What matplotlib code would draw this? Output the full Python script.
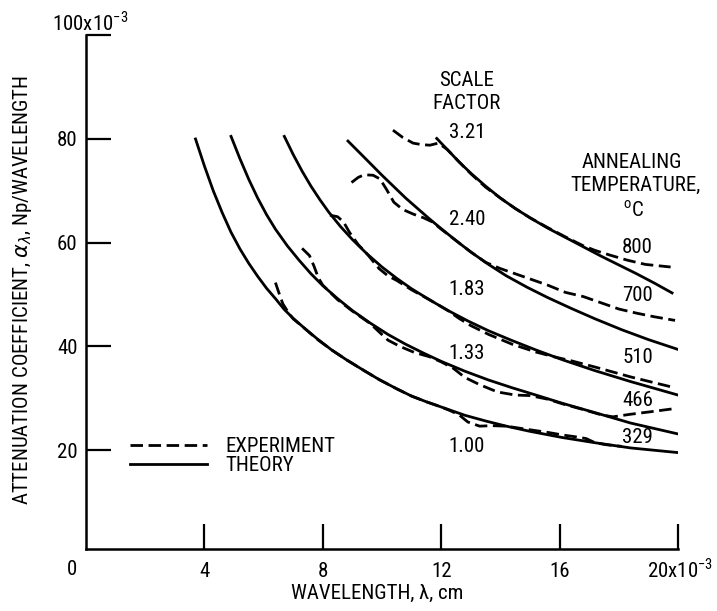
import matplotlib
matplotlib.use('Agg')
import matplotlib.pyplot as plt
from matplotlib import font_manager

# pick a condensed sans face if one is installed, the original lettering is narrow
installed = {f.name for f in font_manager.fontManager.ttflist}
narrow = [n for n in ['Liberation Sans Narrow', 'Roboto Condensed', 'Noto Sans Condensed',
                      'DejaVu Sans Condensed', 'Open Sans Condensed'] if n in installed]
if narrow:
    plt.rcParams['font.family'] = [narrow[0], 'DejaVu Sans']
    FS = 15
else:
    plt.rcParams['font.family'] = ['DejaVu Sans']
    FS = 12.5
plt.rcParams['mathtext.fontset'] = 'dejavusans'

# wavelength in 1e-3 cm, attenuation coefficient in 1e-3 Np/wavelength
# theory curves (solid)
th_329_x = [3.7, 4.0, 4.3, 4.6, 4.9, 5.2, 5.5, 5.8, 6.1, 6.4, 6.7, 7.0, 7.4, 7.8, 8.3, 8.8, 9.4, 9.9,
            10.5, 11.0, 11.5, 12.0, 12.8, 13.5, 14.2, 15.0, 16.1, 17.2, 18.4, 20.0]
th_329_y = [80.0, 74.8, 70.0, 65.8, 62.0, 58.8, 56.0, 53.5, 51.2, 49.2, 47.1, 45.4, 43.4, 41.5, 39.3, 37.4, 35.3, 33.6,
            31.8, 30.4, 29.3, 28.3, 26.7, 25.6, 24.6, 23.6, 22.4, 21.4, 20.4, 19.5]

th_466_x = [4.9, 5.2, 5.5, 5.8, 6.1, 6.4, 6.8, 7.2, 7.6, 8.0, 8.5, 9.0, 9.6, 10.2, 10.8, 11.4, 12.0,
            12.8, 13.6, 14.4, 15.2, 16.1, 17.2, 18.4, 20.0]
th_466_y = [80.5, 76.2, 72.2, 68.6, 65.4, 62.6, 59.4, 56.6, 54.0, 51.7, 49.2, 46.9, 44.5, 42.3, 40.4, 38.7, 37.1,
            35.2, 33.5, 32.0, 30.6, 29.0, 27.2, 25.2, 23.1]

th_510_x = [6.7, 7.0, 7.3, 7.6, 7.9, 8.2, 8.6, 9.0, 9.5, 10.0, 10.5, 11.0, 11.6, 12.2, 12.9, 13.6, 14.4,
            15.2, 16.1, 17.2, 18.4, 20.0]
th_510_y = [80.5, 77.0, 73.8, 70.9, 68.3, 65.9, 63.1, 60.6, 57.8, 55.3, 53.1, 51.1, 49.0, 47.0, 44.9, 43.0, 41.1,
            39.3, 37.4, 35.3, 33.2, 30.6]

th_700_x = [8.85, 9.2, 9.6, 10.0, 10.4, 10.8, 11.2, 11.6, 12.0, 12.5, 13.0, 13.6, 14.2, 14.9, 15.6, 16.4,
            17.2, 18.1, 19.0, 20.0]
th_700_y = [79.6, 77.6, 75.3, 73.0, 70.8, 68.6, 66.6, 64.6, 62.7, 60.4, 58.2, 55.8, 53.6, 51.4, 49.4, 47.3,
            45.3, 43.2, 41.3, 39.4]

th_800_x = [11.85, 12.2, 12.6, 13.0, 13.5, 14.0, 14.5, 15.0, 15.6, 16.2, 16.8, 17.4, 18.0, 18.6, 19.2, 19.8]
th_800_y = [80.1, 78.0, 75.6, 73.4, 70.9, 68.6, 66.6, 64.8, 62.8, 61.0, 59.2, 57.4, 55.7, 54.0, 52.2, 50.3]

# experiment curves (dashed)
ex_329_x = [6.4, 6.5, 6.65, 6.85, 7.0, 7.4, 7.8, 8.3, 8.8, 9.4, 9.9, 10.5, 11.0, 11.5, 12.0, 12.3,
            12.6, 12.9, 13.3, 13.7, 14.2, 15.0, 15.6, 16.1, 16.6, 16.9, 17.2, 17.6, 18.1]
ex_329_y = [52.3, 50.6, 48.2, 46.4, 45.3, 43.4, 41.4, 39.3, 37.4, 35.3, 33.6, 31.8, 30.4, 29.3, 28.3, 27.6,
            26.8, 25.4, 24.6, 24.7, 24.6, 23.9, 23.4, 22.9, 22.5, 22.2, 21.4, 21.0, 20.7]

ex_466_x = [7.3, 7.55, 7.7, 7.85, 8.0, 8.5, 9.0, 9.6, 9.9, 10.2, 10.6, 11.1, 11.6, 12.0, 12.4, 12.8,
            13.3, 13.9, 14.5, 15.0, 15.6, 16.1, 16.8, 17.4, 17.8, 18.4, 19.1, 19.9]
ex_466_y = [58.9, 57.5, 55.5, 53.2, 51.8, 49.0, 46.8, 44.4, 42.8, 41.2, 40.0, 38.8, 38.0, 37.0, 35.8, 34.0,
            32.6, 31.2, 30.6, 30.5, 29.8, 28.9, 27.8, 26.8, 26.4, 26.9, 27.4, 28.0]

ex_510_x = [8.24, 8.5, 8.7, 8.9, 9.2, 9.5, 9.9, 10.2, 10.5, 11.0, 11.6, 12.2, 12.6, 13.0, 13.6, 14.4,
            15.2, 15.8, 16.4, 17.2, 18.4, 19.9]
ex_510_y = [65.3, 65.0, 64.0, 62.0, 59.6, 57.8, 55.0, 53.6, 52.7, 50.9, 49.0, 47.0, 45.4, 44.0, 42.3, 40.4,
            38.9, 38.0, 37.2, 36.0, 34.1, 32.0]

ex_700_x = [8.97, 9.2, 9.4, 9.7, 9.93, 10.15, 10.4, 10.7, 11.06, 11.4, 11.7, 12.0, 12.5, 13.0, 13.5,
            14.0, 14.5, 15.0, 15.6, 16.2, 16.8, 17.4, 18.0, 18.6, 19.2, 19.9]
ex_700_y = [71.6, 72.6, 73.1, 73.0, 72.3, 70.3, 67.8, 66.4, 65.5, 64.8, 64.0, 62.6, 60.4, 58.2, 56.2,
            55.0, 54.0, 53.0, 51.8, 50.4, 49.6, 48.4, 47.2, 46.4, 45.7, 45.0]

ex_800_x = [10.37, 10.7, 11.05, 11.35, 11.62, 11.9, 12.2, 12.6, 13.0, 13.5, 14.0, 14.5, 15.0, 15.6,
            16.2, 16.8, 17.2, 17.7, 18.3, 18.9, 19.75]
ex_800_y = [81.7, 80.3, 79.2, 78.9, 78.8, 79.2, 78.0, 75.6, 73.3, 70.7, 68.6, 66.6, 64.8, 62.9,
            61.1, 59.4, 58.5, 57.6, 56.6, 55.8, 55.3]

scale_factors = ['1.00', '1.33', '1.83', '2.40', '3.21']
temperatures = ['329', '466', '510', '700', '800']

x_ticks = [4, 8, 12, 16, 20]
y_ticks = [20, 40, 60, 80, 100]

theory = [(th_329_x, th_329_y), (th_466_x, th_466_y), (th_510_x, th_510_y),
          (th_700_x, th_700_y), (th_800_x, th_800_y)]
experiment = [(ex_329_x, ex_329_y), (ex_466_x, ex_466_y), (ex_510_x, ex_510_y),
              (ex_700_x, ex_700_y), (ex_800_x, ex_800_y)]

fig = plt.figure(figsize=(7.17, 6.11), dpi=100)
ax = fig.add_axes([86 / 717, (611 - 548.5) / 611, 592 / 717, 513.2 / 611])

dash = (0, (4.5, 2))
for x, y in experiment:
    l_ex, = ax.plot(x, y, color='black', lw=2.0, linestyle=dash)
for x, y in theory:
    l_th, = ax.plot(x, y, color='black', lw=2.0)

ax.set_xlim(0, 20)
ax.set_ylim(1.0, 100)
for s in ['top', 'right']:
    ax.spines[s].set_visible(False)
for s in ['left', 'bottom']:
    ax.spines[s].set_linewidth(1.8)

ax.set_xticks(x_ticks)
ax.set_xticklabels([str(t) for t in x_ticks[:-1]] + [''])
ax.set_yticks(y_ticks)
ax.set_yticklabels([str(t) for t in y_ticks[:-1]] + [''])
ax.tick_params(axis='both', direction='in', length=18, width=1.6, labelsize=FS)
ax.tick_params(axis='y', pad=6)
ax.tick_params(axis='x', pad=10)

# axis end labels
ax.text(-0.47, -3.1, '0', fontsize=FS, ha='center', va='center')
ax.text(21.18, -3.1, '20x10$^{\\mathregular{-3}}$', fontsize=FS, ha='right', va='center')
ax.text(0.15, 102.4, '100x10$^{\\mathregular{-3}}$', fontsize=FS, ha='center', va='center')

fig.text(23 / 717, 1 - 290 / 611,
         'ATTENUATION COEFFICIENT, $\\alpha_{\\lambda}$, Np/WAVELENGTH',
         rotation=90, fontsize=FS, ha='center', va='center')
fig.text(377 / 717, 1 - 593 / 611, 'WAVELENGTH, \u03bb, cm',
         fontsize=FS, ha='center', va='center')

# curve annotations
sf_y = [20.6, 38.7, 50.9, 64.4, 81.2]
for lab, yy in zip(scale_factors, sf_y):
    ax.text(12.87, yy, lab, fontsize=FS, ha='center', va='center')
ax.text(12.84, 91.3, 'SCALE', fontsize=FS, ha='center', va='center')
ax.text(12.84, 86.9, 'FACTOR', fontsize=FS, ha='center', va='center')

t_y = [22.5, 29.6, 37.8, 49.9, 59.1]
for lab, yy in zip(temperatures, t_y):
    ax.text(18.63, yy, lab, fontsize=FS, ha='center', va='center')
ax.text(18.45, 75.5, 'ANNEALING', fontsize=FS, ha='center', va='center')
ax.text(18.55, 71.1, 'TEMPERATURE,', fontsize=FS, ha='center', va='center')
ax.text(18.48, 66.3, '$^{\\mathregular{o}}$C', fontsize=FS, ha='center', va='center')

ax.legend([l_ex, l_th], ['EXPERIMENT', 'THEORY'], loc='center left',
          bbox_to_anchor=(1.49, 18.85), bbox_transform=ax.transData,
          frameon=False, fontsize=FS, handlelength=3.8 * 14.5 / FS, handletextpad=0.9,
          labelspacing=0.0, borderpad=0, borderaxespad=0)

fig.savefig('out.png', dpi=100)
